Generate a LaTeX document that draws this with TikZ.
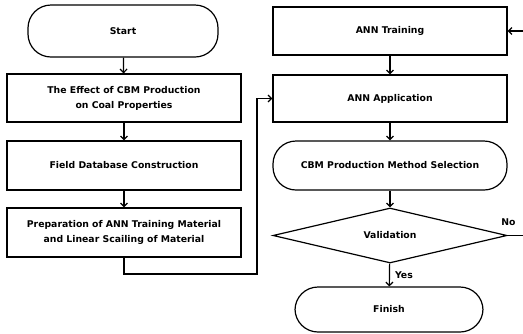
\documentclass[tikz,border=0pt]{standalone}
\usepackage{fontspec}
\setmainfont{DejaVu Sans}
\usetikzlibrary{shapes.geometric,arrows.meta}

\begin{document}
\begin{tikzpicture}[x=1pt, y=-1pt,
    every node/.style={font=\bfseries\fontsize{9.3}{15}\selectfont, align=center, inner sep=0pt},
    processbox/.style={draw=black, line width=1.2pt, rectangle, fill=white},
    terminal/.style={draw=black, line width=1.2pt, rectangle, rounded corners=23pt, fill=white},
    decision/.style={draw=black, line width=1.2pt, diamond, aspect=4.25, fill=white},
    flowline/.style={draw=black, line width=1.2pt},
    flowarrow/.style={flowline, -{Straight Barb[length=3.5pt,width=7pt]}}]

    % Fix the page size
    \useasboundingbox (0,0) rectangle (523,333);

    % Draw the left column
    \node[terminal, minimum width=190pt, minimum height=52pt] (start) at (123,31) {Start};
    \node[processbox, minimum width=234pt, minimum height=48pt] (effect) at (124,98) {The Effect of CBM Production\\on Coal Properties};
    \node[processbox, minimum width=234pt, minimum height=49pt] (field) at (124,165.5) {Field Database Construction};
    \node[processbox, minimum width=234pt, minimum height=49pt] (prep) at (124,232.5) {Preparation of ANN Training Material\\and Linear Scailing of Material};

    % Draw the right column
    \node[processbox, minimum width=234pt, minimum height=48pt] (training) at (390,31) {ANN Training};
    \node[processbox, minimum width=234pt, minimum height=47pt] (application) at (390,98.5) {ANN Application};
    \node[terminal, minimum width=234pt, minimum height=49pt] (selection) at (390,165.5) {CBM Production Method Selection};
    \node[decision, minimum width=234pt, minimum height=55pt] (validation) at (390,235.5) {Validation};
    \node[terminal, minimum width=188pt, minimum height=45pt] (finish) at (389,309.5) {Finish};

    % Turning points and free ends
    \coordinate (prepturn) at (257,274);
    \coordinate (noend) at (523,235.5);
    \coordinate (trainin) at (523,31);

    % Draw the arrows of the left column
    \draw[flowarrow] (start) -- (effect);
    \draw[flowarrow] (effect) -- (field);
    \draw[flowarrow] (field) -- (prep);
    \draw[flowarrow] (prep.south) |- (prepturn) |- (application.west);

    % Draw the arrows of the right column
    \draw[flowarrow] (training) -- (application);
    \draw[flowarrow] (application) -- (selection);
    \draw[flowarrow] (selection) -- (validation);
    \draw[flowarrow] (validation) -- node[right=5pt] (yes) {Yes} (finish);
    \draw[flowline] (validation.east) -- (noend) node[pos=0.05, above=9pt] (no) {No};
    \draw[flowarrow] (trainin) -- (training.east);

\end{tikzpicture}
\end{document}
